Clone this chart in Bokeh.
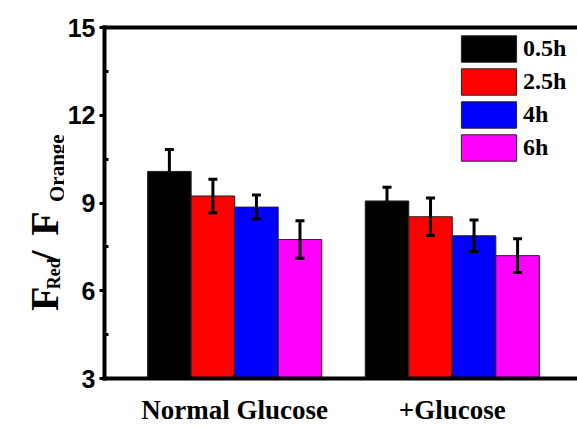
import math
from bokeh.plotting import figure
from bokeh.layouts import row
from bokeh.models import (ColumnDataSource, Whisker, TeeHead, FixedTicker, LinearAxis,
                          Range1d, Legend, LegendItem, Label)
from bokeh.embed import file_html
from bokeh.resources import INLINE

groups = ["Normal Glucose", "+Glucose"]
series = ["0.5h", "2.5h", "4h", "6h"]
colors = ["#000000", "#FF0000", "#0000FF", "#FF00FF"]
values = {
    "0.5h": [10.08, 9.07],
    "2.5h": [9.24, 8.53],
    "4h":   [8.86, 7.88],
    "6h":   [7.75, 7.20],
}
errors = {
    "0.5h": [0.75, 0.47],
    "2.5h": [0.57, 0.64],
    "4h":   [0.41, 0.54],
    "6h":   [0.64, 0.58],
}
y_ticks = [3, 6, 9, 12, 15]
y_minor = [4.5, 7.5, 10.5, 13.5]

W, H = 577, 427
LW = 64
FL, FR, FT, FB = 101, 577, 27, 381
c1 = 232.0
unit = 219.0
x0 = 1 - (c1 - FL) / unit
x1 = 1 + (FR - c1) / unit

# ---- left strip with the rotated y-axis title (its frame is aligned with the main frame) ----
lab = figure(width=LW, height=H, output_backend="svg", toolbar_location=None,
             x_range=Range1d(0, LW), y_range=Range1d(H - FB, H - FT),
             min_border_left=0, min_border_right=0, min_border_top=FT,
             min_border_bottom=H - FB, x_axis_type=None, y_axis_type=None)
lab.outline_line_color = None
lab.xgrid.visible = False
lab.ygrid.visible = False
lab.border_fill_color = "white"
lab.background_fill_color = "white"

parts = [
    ("F", 44, 313, "40px"),
    ("Red", 53, 291, "18px"),
    ("/", 44, 263, "40px"),
    ("F", 44, 237, "40px"),
    ("Orange", 56, 203, "21px"),
]
for txt, bx, by, fs in parts:
    lab.add_layout(Label(x=bx, y=H - by, text=txt, angle=90, angle_units="deg",
                         text_align="left", text_baseline="alphabetic",
                         text_font="Liberation Serif", text_font_style="bold",
                         text_font_size=fs, text_color="black"))

# ---- main plot ----
p = figure(width=W - LW, height=H, output_backend="svg", toolbar_location=None,
           x_range=Range1d(x0, x1), y_range=Range1d(3, 15),
           min_border_left=FL - LW, min_border_right=0, min_border_top=FT,
           min_border_bottom=H - FB, x_axis_type=None, y_axis_type=None)
p.outline_line_color = None
p.xgrid.visible = False
p.ygrid.visible = False
p.background_fill_color = "white"
p.border_fill_color = "white"

bw = 0.2
offsets = [-0.3, -0.1, 0.1, 0.3]
items = []
for s, col, off in zip(series, colors, offsets):
    xs = [i + 1 + off for i in range(len(groups))]
    src = ColumnDataSource(dict(x=xs, top=values[s],
                                upper=[v + e for v, e in zip(values[s], errors[s])],
                                lower=[v - e for v, e in zip(values[s], errors[s])]))
    r = p.vbar(x="x", top="top", bottom=3, width=bw, source=src,
               fill_color=col, line_color="#222222", line_width=1)
    items.append(LegendItem(label=s, renderers=[r]))
    wk = Whisker(source=src, base="x", upper="upper", lower="lower",
                 line_color="black", line_width=3, level="overlay",
                 upper_head=TeeHead(size=9, line_width=3, line_color="black"),
                 lower_head=TeeHead(size=9, line_width=3, line_color="black"))
    p.add_layout(wk)

yax = LinearAxis(ticker=FixedTicker(ticks=y_ticks, minor_ticks=y_minor))
yax.axis_line_width = 4
yax.axis_line_cap = "square"
yax.major_tick_line_width = 3
yax.major_tick_out = 5
yax.major_tick_in = 0
yax.minor_tick_line_width = 3
yax.minor_tick_in = 4
yax.minor_tick_out = 0
yax.major_label_standoff = 4
yax.major_label_text_font = "Liberation Sans"
yax.major_label_text_font_style = "bold"
yax.major_label_text_font_size = "25px"
yax.major_label_text_color = "black"
p.add_layout(yax, "left")

xax = LinearAxis(ticker=FixedTicker(ticks=[1, 2]),
                 major_label_overrides={1: groups[0], 2: groups[1]})
xax.axis_line_width = 4
xax.axis_line_cap = "square"
xax.major_tick_line_width = 3
xax.major_tick_in = 4
xax.major_tick_out = 0
xax.minor_tick_line_color = None
xax.major_label_standoff = 16
xax.major_label_text_font = "Liberation Serif"
xax.major_label_text_font_style = "bold"
xax.major_label_text_font_size = "27px"
xax.major_label_text_color = "black"
p.add_layout(xax, "below")

tax = LinearAxis(ticker=FixedTicker(ticks=[]))
tax.axis_line_width = 4
tax.axis_line_cap = "square"
tax.major_tick_line_color = None
tax.minor_tick_line_color = None
tax.major_label_text_font_size = "0px"
p.add_layout(tax, "above")

legend = Legend(items=items, location=(350, 214),
                glyph_width=69, glyph_height=33, spacing=0, padding=0, margin=0,
                label_standoff=0, border_line_color=None, background_fill_alpha=0,
                label_text_font="Liberation Serif", label_text_font_style="bold",
                label_text_font_size="24px", label_text_color="black", label_height=33)
p.add_layout(legend, "center")

layout = row(lab, p, spacing=0)
open("out.html", "w").write(file_html(layout, INLINE))
